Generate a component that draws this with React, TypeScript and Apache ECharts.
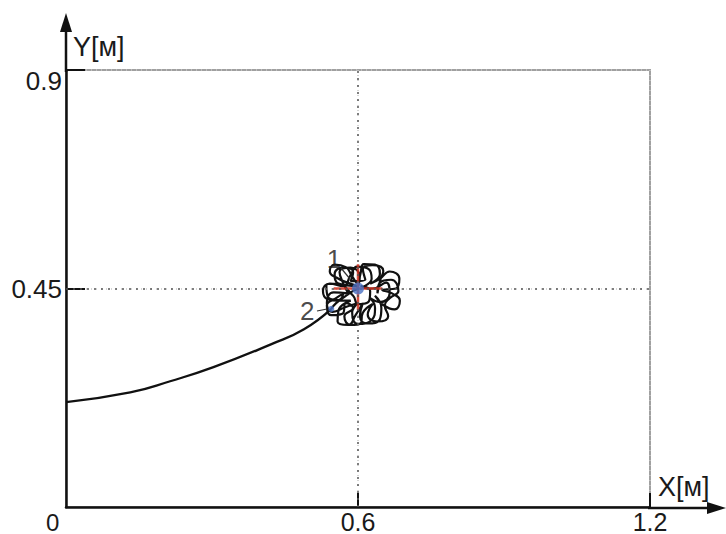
import React, { useEffect, useRef } from "react";
import * as echarts from "echarts";

// Trajectory from start to point 2
const pathX = [0, 0.132, 0.214, 0.303, 0.421, 0.489, 0.545];
const pathY = [0.216, 0.236, 0.259, 0.288, 0.335, 0.366, 0.408];

// Looping motion around the target (hand-read)
const loopX = [
  0.545, 0.555, 0.575, 0.59, 0.6,
  0.56, 0.542, 0.552, 0.575, 0.588, 0.6,
  0.605, 0.612, 0.635, 0.645, 0.625,
  0.645, 0.665, 0.685, 0.678, 0.65,
  0.67, 0.686, 0.675, 0.652, 0.635,
  0.648, 0.645, 0.62, 0.604, 0.61,
  0.595, 0.58, 0.558, 0.56, 0.585,
  0.56, 0.538, 0.528, 0.542, 0.57,
  0.585, 0.598, 0.622, 0.628, 0.61,
  0.63, 0.658, 0.665, 0.645, 0.625,
  0.635, 0.628, 0.6, 0.588, 0.6,
  0.575, 0.548, 0.536, 0.55, 0.58,
  0.57, 0.562, 0.585, 0.603, 0.6,
  0.56, 0.552, 0.57, 0.59, 0.585,
  0.615, 0.61, 0.63, 0.652, 0.645,
  0.64, 0.645, 0.668, 0.683, 0.665,
  0.655, 0.662, 0.64, 0.62, 0.63,
  0.61, 0.605, 0.585, 0.572, 0.59,
  0.575, 0.568, 0.545, 0.536, 0.555,
  0.57, 0.56, 0.538, 0.535, 0.556,
  0.59, 0.6, 0.622, 0.625, 0.605,
];
const loopY = [
  0.408, 0.42, 0.435, 0.445, 0.45,
  0.47, 0.485, 0.499, 0.494, 0.475, 0.46,
  0.48, 0.5, 0.499, 0.48, 0.46,
  0.47, 0.485, 0.47, 0.45, 0.447,
  0.44, 0.425, 0.407, 0.416, 0.435,
  0.41, 0.387, 0.378, 0.393, 0.42,
  0.395, 0.375, 0.382, 0.405, 0.425,
  0.425, 0.428, 0.445, 0.46, 0.455,
  0.478, 0.495, 0.49, 0.47, 0.452,
  0.45, 0.462, 0.44, 0.422, 0.43,
  0.41, 0.385, 0.377, 0.4, 0.42,
  0.412, 0.402, 0.42, 0.442, 0.44,
  0.46, 0.484, 0.493, 0.475, 0.455,
  0.46, 0.48, 0.493, 0.484, 0.465,
  0.468, 0.49, 0.498, 0.486, 0.465,
  0.44, 0.462, 0.468, 0.445, 0.43,
  0.415, 0.393, 0.382, 0.396, 0.418,
  0.4, 0.378, 0.375, 0.393, 0.41,
  0.42, 0.398, 0.395, 0.415, 0.43,
  0.44, 0.426, 0.433, 0.457, 0.46,
  0.435, 0.418, 0.423, 0.445, 0.455,
];

const target = [0.6, 0.45];
const point2 = [0.545, 0.408];
const crossH = [[0.55, 0.45], [0.65, 0.45]];
const crossV = [[0.6, 0.405], [0.6, 0.5]];

const xTickLabels = [0.6, 1.2];
const yTickLabels = [0.45, 0.9];

const FONT = "Liberation Sans, Arial, sans-serif";

export default function App() {
  const ref = useRef<HTMLDivElement>(null);
  useEffect(() => {
    const chart = echarts.init(ref.current!, null, { renderer: "svg" });
    const zip = (xs: number[], ys: number[]) => xs.map((x, i) => [x, ys[i]]);
    chart.setOption({
      animation: false,
      backgroundColor: "#ffffff",
      grid: {
        left: 66, right: 76, top: 70, bottom: 26,
        show: true, borderColor: "#a0a0a0", borderWidth: 2, backgroundColor: "transparent",
      },
      xAxis: {
        type: "value", min: 0, max: 1.2, interval: 0.3,
        axisLine: { show: true, onZero: false, lineStyle: { color: "#111", width: 2.5 } },
        axisTick: { show: true, inside: true, length: 14, customValues: xTickLabels, lineStyle: { color: "#111", width: 2 } },
        axisLabel: {
          customValues: xTickLabels, color: "#1a1a1a", fontSize: 25, fontFamily: FONT, margin: 2,
          formatter: (v: number) => String(v),
        },
        splitLine: { show: true, lineStyle: { color: "#c8c8c8", type: [1, 4], width: 1.5 } },
      },
      yAxis: {
        type: "value", min: 0, max: 0.9, interval: 0.225,
        axisLine: { show: true, onZero: false, lineStyle: { color: "#111", width: 2.5 } },
        axisTick: { show: true, inside: true, length: 19, customValues: yTickLabels, lineStyle: { color: "#111", width: 2 } },
        axisLabel: {
          customValues: yTickLabels, color: "#1a1a1a", fontSize: 26, fontFamily: FONT, margin: 4,
          formatter: (v: number) => (v === 0.9 ? "{d|0.9}" : String(v)),
          rich: { d: { fontSize: 26, fontFamily: FONT, color: "#1a1a1a", padding: [22, 0, 0, 0] } },
        },
        splitLine: { show: true, lineStyle: { color: "#c8c8c8", type: [1, 4], width: 1.5 } },
      },
      series: [
        {
          type: "line", data: [], silent: true,
          markLine: {
            symbol: "none", silent: true, label: { show: false },
            lineStyle: { color: "#555", type: [2, 5], width: 1.5 },
            data: [{ xAxis: target[0] }, { yAxis: target[1] }],
          },
        },
        {
          type: "line", data: zip(pathX, pathY), showSymbol: false, smooth: true,
          lineStyle: { color: "#111", width: 2.3 }, z: 3,
        },
        {
          type: "line", data: zip(loopX, loopY), showSymbol: false, smooth: 0.5,
          lineStyle: { color: "#111", width: 2.2 }, z: 3,
        },
        {
          type: "line", data: crossH, showSymbol: false,
          lineStyle: { color: "#d0301e", width: 2.5, opacity: 0.85 }, z: 4,
        },
        {
          type: "line", data: crossV, showSymbol: false,
          lineStyle: { color: "#d0301e", width: 2.5, opacity: 0.85 }, z: 4,
        },
        {
          type: "scatter", data: [target], symbolSize: 12, z: 6,
          itemStyle: { color: "#4a72c4" },
          label: { show: true, formatter: "1", color: "#1a1a1a", fontSize: 26, fontFamily: FONT, offset: [-24, -30] },
        },
        {
          type: "scatter", data: [point2], symbolSize: 6, z: 6,
          itemStyle: { color: "#4a72c4" },
          label: { show: true, formatter: "2", color: "#1a1a1a", fontSize: 26, fontFamily: FONT, offset: [-24, 2] },
        },
      ],
      graphic: [
        // axis extensions and arrows
        { type: "line", shape: { x1: 66, y1: 72, x2: 66, y2: 28 }, style: { stroke: "#111", lineWidth: 2.5 } },
        { type: "polygon", shape: { points: [[66, 13], [60, 32], [72, 32]] }, style: { fill: "#111" } },
        { type: "line", shape: { x1: 648, y1: 508, x2: 710, y2: 508 }, style: { stroke: "#111", lineWidth: 2.5 } },
        { type: "polygon", shape: { points: [[726, 508], [707, 502], [707, 514]] }, style: { fill: "#111" } },
        { type: "text", x: 73, y: 33, style: { text: "Y[м]", fontSize: 27, fontFamily: FONT, fill: "#1a1a1a" } },
        { type: "text", x: 658, y: 473, style: { text: "X[м]", fontSize: 27, fontFamily: FONT, fill: "#1a1a1a" } },
        { type: "text", x: 46, y: 510, style: { text: "0", fontSize: 24, fontFamily: FONT, fill: "#1a1a1a" } },
        // leader lines for annotations
        { type: "line", shape: { x1: 341, y1: 268, x2: 350, y2: 279 }, style: { stroke: "#333", lineWidth: 1.2 }, z: 10 },
        { type: "line", shape: { x1: 317, y1: 311, x2: 327, y2: 309 }, style: { stroke: "#333", lineWidth: 1.2 }, z: 10 },
      ],
    });
    return () => chart.dispose();
  }, []);
  return <div ref={ref} style={{ width: 726, height: 534, position: "absolute", left: 0, top: 0 }} />;
}
